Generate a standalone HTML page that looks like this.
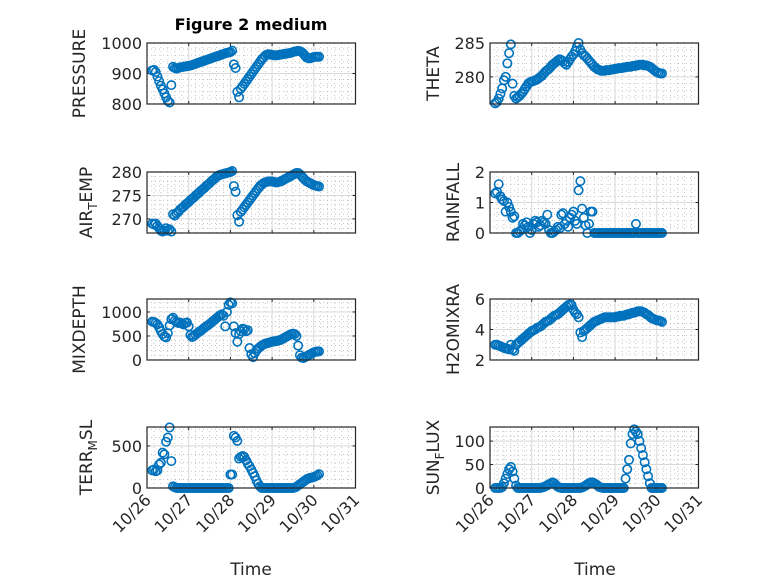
<!DOCTYPE html>
<html><head><meta charset="utf-8"><style>
html,body{margin:0;padding:0;background:#fff;}
svg{display:block;font-family:"DejaVu Sans","Liberation Sans",sans-serif;}
</style></head><body>
<svg id="fig" width="778" height="583" viewBox="0 0 778 583">
<rect width="778" height="583" fill="#fff"/>
<text x="251" y="30" text-anchor="middle" font-weight="bold" font-size="16" fill="#000">Figure 2 medium</text>
<text x="251" y="575" text-anchor="middle" font-size="17" fill="#262626">Time</text>
<text x="595" y="575" text-anchor="middle" font-size="17" fill="#262626">Time</text>
</svg>
<script>
// hours since 10/26 00:00 (3..99)
const hours = [];
for (let h = 3; h <= 99; h++) hours.push(h);
const xTickLabels = ["10/26","10/27","10/28","10/29","10/30","10/31"];

const pressure = [910,912,905,890,875,860,848,835,822,810,805,862,
922,918,916,918,920,921,922,923,924,925,926,928,930,932,934,936,938,940,942,944,946,948,950,952,954,956,958,960,962,964,966,968,969,970,975,
930,918,
840,822,850,858,866,874,882,890,898,906,914,922,930,938,946,952,958,
962,963,962,961,960,960,960,961,962,963,964,965,966,967,968,970,972,973,974,973,970,965,958,952,950,950,952,954,955,955,955];
const airTemp = [269,268.8,269,268.5,268,267.5,267.3,267.5,268,267.5,267.8,267.3,
271,270.7,271.2,271.5,272,272.3,272.6,273,273.3,273.6,274,274.3,274.6,275,275.3,275.6,276,276.3,276.6,277,277.3,277.6,278,278.3,278.6,279,279.2,279.4,279.5,279.6,279.7,279.8,279.9,280,
280.2,277,275.8,270.8,269.4,
271.5,272,272.5,273,273.5,274,274.5,275,275.5,276,276.5,277,277.3,277.6,277.8,
277.9,278,278,278,277.9,277.8,277.8,277.9,278,278.2,278.4,278.6,278.8,279,279.2,279.4,279.6,279.8,
279.8,279.5,279.1,278.7,278.3,278,277.8,277.6,277.4,277.2,277.1,277,276.9];
const mixDepth = [800,790,770,740,680,600,540,490,470,560,720,850,880,820,790,770,780,760,740,770,780,700,520,480,500,530,560,590,610,640,670,700,720,750,780,810,840,870,900,930,950,920,700,1000,1150,1200,1180,700,560,380,540,600,650,640,600,620,250,120,60,140,200,240,270,300,320,340,350,360,370,380,390,390,400,410,420,440,460,480,500,520,540,550,540,500,300,100,50,40,60,80,100,120,140,160,170,180,180];
const terrMsl = [210,220,200,210,280,300,420,400,550,600,720,320,
20,10,
0,0,0,0,0,0,0,0,0,0,0,0,0,0,0,0,0,0,0,0,0,0,0,0,0,0,0,0,0,0,0,
160,160,620,600,560,350,370,380,370,330,290,260,220,180,140,90,50,20,
0,0,0,0,0,0,0,0,0,0,0,0,0,0,0,0,0,0,0,
5,15,30,45,60,75,90,105,115,120,125,130,140,150,165];
const theta = [276.1,276.3,276.8,277.5,278.3,279.5,280,282,283.5,284.8,279,277.2,
276.8,277,277.2,277.5,277.8,278.2,278.6,279,279.2,279.3,279.4,279.5,279.6,279.8,280,280.2,280.5,280.8,281,281.2,281.5,281.8,282,282.2,282.4,282.6,282.5,282.3,282,281.8,282.2,282.6,283,283.3,
283.8,284.4,285,284,283.5,
283.2,283,282.7,282.4,282.1,281.8,281.5,281.3,281.1,281,280.9,
280.9,280.9,281,281,281,281.1,281.1,281.2,281.2,281.3,281.3,281.3,281.4,281.4,281.5,281.5,281.5,281.6,281.6,281.7,281.7,281.8,281.8,281.8,281.7,281.7,281.6,281.5,281.3,281.1,280.9,280.7,280.6,280.5,280.5];
const rainfall = [1.3,1.35,1.6,1.2,1.1,1.05,0.7,1.0,0.85,0.7,0.5,0.55,
0,0,0.05,0.1,0.3,0.25,0.35,0.2,0,0.1,0.3,0.4,0.35,0.2,0.25,0.4,0.35,0.3,0.6,0.1,0,0,0.05,0.1,0.2,0.15,0.6,0.65,0.3,0.4,0.2,0.5,0.6,0.7,0.4,0.3,
1.4,1.7,0.8,0.5,0.25,0,0.3,0.7,0.7,
0,0,0,0,0,0,0,0,0,0,0,0,0,0,0,0,0,0,0,0,0,0,0,0,0.3,0,0,0,0,0,0,0,0,0,0,0,0,0,0,0];
const h2oMix = [3.0,3.0,2.95,2.9,2.85,2.8,2.75,2.75,2.7,3.0,2.7,2.6,
3.0,3.1,3.2,3.3,3.4,3.5,3.6,3.7,3.8,3.9,3.95,4.0,4.1,4.15,4.2,4.3,4.4,4.5,4.55,4.6,4.7,4.8,4.9,4.95,5.0,5.1,5.2,5.3,5.4,5.5,5.6,5.65,
5.6,5.3,5.1,5.0,4.8,3.8,3.5,
3.9,4.0,4.1,4.2,4.3,4.4,4.5,4.55,4.6,4.65,4.7,4.75,4.8,4.8,4.8,4.8,4.8,
4.8,4.8,4.85,4.85,4.9,4.9,4.9,4.95,5.0,5.0,5.05,5.1,5.1,5.15,5.2,5.2,5.2,5.15,5.1,5.0,4.95,4.85,4.75,4.7,4.65,4.6,4.6,4.55,4.5];
const sunFlux = [0,0,0,0,2,
10,20,30,40,45,35,20,5,
0,0,0,0,0,0,0,0,0,0,0,0,0,0,
1,2,4,6,8,10,12,10,6,3,1,
0,0,0,0,0,0,0,0,0,0,0,0,
1,3,5,8,10,12,12,10,8,5,2,1,
0,0,0,0,0,0,0,0,0,0,0,0,0,
20,40,60,95,115,125,120,115,100,85,70,55,40,25,10,
0,0,0,0,0,0,0];

const pressureTicks = [800,900,1000];
const airTempTicks = [270,275,280];
const mixDepthTicks = [0,500,1000];
const terrTicks = [0,500];
const thetaTicks = [280,285];
const rainTicks = [0,1,2];
const h2oTicks = [2,4,6];
const sunTicks = [0,50,100];

const NS = "http://www.w3.org/2000/svg";
const svg = document.getElementById("fig");
function mk(tag, attrs, parent) {
  const e = document.createElementNS(NS, tag);
  for (const k in attrs) e.setAttribute(k, attrs[k]);
  (parent || svg).appendChild(e);
  return e;
}
const rowsTop = [43, 172, 299, 427];
const H = 61;
const colsLeft = [147, 490];
const W = 208.5;

function panel(col, row, name, vals, ymin, ymax, ticks, label, showX) {
  const x0 = colsLeft[col], y0 = rowsTop[row];
  const g = mk("g", {});
  
  
  const xs = d => x0 + (d / 5) * W;
  const ys = v => y0 + H - (v - ymin) / (ymax - ymin) * H;
  for (let k = 1; k < 30; k++) {
    if (k % 6 === 0) continue;
    mk("line", {x1: xs(k/6), x2: xs(k/6), y1: y0, y2: y0 + H, stroke: "#b0b0b0", "stroke-width": 0.7, "stroke-dasharray": "1 3"}, g);
  }
  const step = ticks.length > 1 ? (ticks[1] - ticks[0]) / 5 : 0;
  if (step > 0) {
    for (let v = ticks[0] - step * 20; v <= ymax + 1e-9; v += step) {
      if (v < ymin - 1e-9) continue;
      mk("line", {x1: x0, x2: x0 + W, y1: ys(v), y2: ys(v), stroke: "#b0b0b0", "stroke-width": 0.7, "stroke-dasharray": "1 3"}, g);
    }
  }
  for (let d = 1; d < 5; d++)
    mk("line", {x1: xs(d), x2: xs(d), y1: y0, y2: y0 + H, stroke: "#d8d8d8", "stroke-width": 1}, g);
  ticks.forEach(t => {
    mk("line", {x1: x0, x2: x0 + W, y1: ys(t), y2: ys(t), stroke: "#d8d8d8", "stroke-width": 1}, g);
    const tl = mk("text", {x: x0 - 5, y: ys(t) + 6, "text-anchor": "end", "font-size": 16, fill: "#262626"}, g);
    
    
    tl.textContent = t;
    mk("line", {x1: x0, x2: x0 + 3, y1: ys(t), y2: ys(t), stroke: "#262626"}, g);
    mk("line", {x1: x0 + W, x2: x0 + W - 3, y1: ys(t), y2: ys(t), stroke: "#262626"}, g);
  });
  for (let d = 0; d <= 5; d++) {
    mk("line", {x1: xs(d), x2: xs(d), y1: y0 + H, y2: y0 + H - 3, stroke: "#262626"}, g);
    mk("line", {x1: xs(d), x2: xs(d), y1: y0, y2: y0 + 3, stroke: "#262626"}, g);
    if (showX) {
      const tx = xs(d) + 5, ty = y0 + H + 13;
      const xl = mk("text", {x: tx, y: ty, "text-anchor": "end", "font-size": 16, fill: "#262626", transform: `rotate(-45 ${tx} ${ty})`}, g);
      
      
      xl.textContent = xTickLabels[d];
    }
  }
  const mg = mk("g", {fill: "none", stroke: "#0072BD", "stroke-width": 1.6}, g);
  
  
  vals.forEach((v, i) => {
    const c = mk("circle", {cx: xs(hours[i] / 24), cy: ys(v), r: 4.2}, mg);
    
    
  });
  const box = mk("rect", {x: x0, y: y0, width: W, height: H, fill: "none", stroke: "#262626", "stroke-width": 1.2}, g);
  
  
  const lx = label.x, ly = y0 + H / 2;
  const yl = mk("text", {x: lx, y: ly, "text-anchor": "middle", "font-size": 17, fill: "#262626", transform: `rotate(-90 ${lx} ${ly})`}, g);
  
  
  label.parts.forEach(p => {
    const ts = mk("tspan", {}, yl);
    if (p[1] === "sub") { ts.setAttribute("font-size", 12); ts.setAttribute("dy", 5); }
    if (p[1] === "after") { ts.setAttribute("dy", -5); }
    ts.textContent = p[0];
  });
}

panel(0, 0, "pressure", pressure, 800, 1000, pressureTicks, {x: 85, parts: [["PRESSURE"]]}, false);
panel(0, 1, "air-temp", airTemp, 267, 280, airTempTicks, {x: 92, parts: [["AIR"], ["T", "sub"], ["EMP", "after"]]}, false);
panel(0, 2, "mixdepth", mixDepth, 0, 1270, mixDepthTicks, {x: 85, parts: [["MIXDEPTH"]]}, false);
panel(0, 3, "terr-msl", terrMsl, 0, 725, terrTicks, {x: 92, parts: [["TERR"], ["M", "sub"], ["SL", "after"]]}, true);
panel(1, 0, "theta", theta, 276, 285, thetaTicks, {x: 439, parts: [["THETA"]]}, false);
panel(1, 1, "rainfall", rainfall, 0, 2, rainTicks, {x: 459, parts: [["RAINFALL"]]}, false);
panel(1, 2, "h2omixra", h2oMix, 2, 6, h2oTicks, {x: 459, parts: [["H2OMIXRA"]]}, false);
panel(1, 3, "sun-flux", sunFlux, 0, 130, sunTicks, {x: 439, parts: [["SUN"], ["F", "sub"], ["LUX", "after"]]}, true);
</script>
</body></html>
